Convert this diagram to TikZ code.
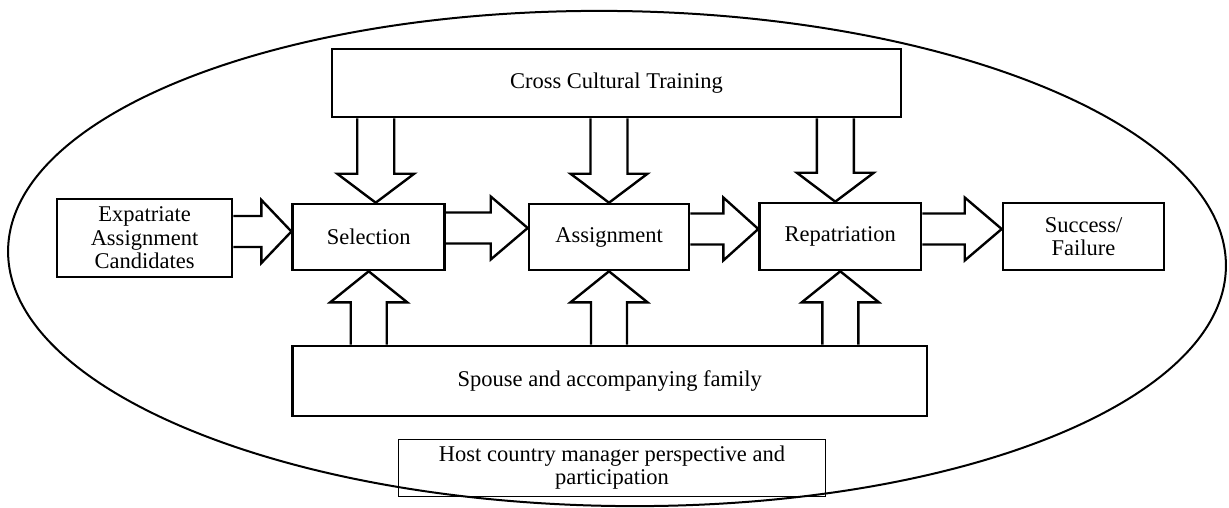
\documentclass[tikz,border=0pt]{standalone}
\usepackage{fontspec}
\setmainfont{Liberation Serif}
\usetikzlibrary{calc}
\tikzset{
  box/.style 2 args={draw, line width=2.6pt, minimum width=#1, minimum height=#2,
    align=center, inner sep=0pt, font=\fontsize{22.5}{23.5}\selectfont},
  thinbox/.style 2 args={draw, line width=1pt, minimum width=#1, minimum height=#2,
    align=center, inner sep=0pt, font=\fontsize{22.5}{22.5}\selectfont},
  barrow/.style={draw, line width=2.4pt, miter limit=10},
  outer/.style={draw, line width=2pt}
}
% horizontal block arrow: #1 source point (x used), #2 tip point, #3 head length
\newcommand\myHarrow[3]{%
  \draw[barrow] let \p1=(#1), \p2=(#2) in
    (\x1,\y2+15.5pt) -- (\x2-#3,\y2+15.5pt) -- (\x2-#3,\y2+31.5pt) -- (\x2,\y2)
    -- (\x2-#3,\y2-31.5pt) -- (\x2-#3,\y2-15.5pt) -- (\x1,\y2-15.5pt);}
% downward block arrow: #1 source point (y used), #2 tip point
\newcommand\myDarrow[2]{%
  \draw[barrow] let \p1=(#1), \p2=(#2) in
    (\x2-18.5pt,\y1) -- (\x2-18.5pt,\y2+29pt) -- (\x2-38.5pt,\y2+29pt) -- (\x2,\y2)
    -- (\x2+38.5pt,\y2+29pt) -- (\x2+18.5pt,\y2+29pt) -- (\x2+18.5pt,\y1);}
% upward block arrow: #1 source point (y used), #2 tip point
\newcommand\myUarrow[2]{%
  \draw[barrow] let \p1=(#1), \p2=(#2) in
    (\x2-18pt,\y1) -- (\x2-18pt,\y2-31pt) -- (\x2-38.5pt,\y2-31pt) -- (\x2,\y2)
    -- (\x2+38.5pt,\y2-31pt) -- (\x2+18pt,\y2-31pt) -- (\x2+18pt,\y1);}
\begin{document}
\begin{tikzpicture}[x=1pt,y=-1pt]
\useasboundingbox (0,0) rectangle (1229,507);
\fill[white] (0,0) rectangle (1229,507);

\draw[outer, rotate around={-0.8:(617,258.5)}] (617,258.5) ellipse [x radius=609pt, y radius=247.5pt];

\node[box={569pt}{68pt}] (cct) at (616.5,83) {Cross Cultural Training};
\node[box={175pt}{78pt}] (exp) at (144.5,238) {Expatriate\\Assignment\\Candidates};
\node[box={152pt}{66pt}] (sel) at (368.7,237) {Selection};
\node[box={160pt}{66pt}] (asg) at (609,237) {Assignment};
\node[box={161.4pt}{67pt}] (rep) at (840.3,236.5) {Repatriation};
\node[box={161pt}{67pt}] (suc) at (1083.5,236.5) {Success/\\Failure};
\node[box={634.4pt}{70pt}] (sp) at (609.8,381) {Spouse and accompanying family};
\node[thinbox={427pt}{57pt}] (host) at (612,467.5) {Host country manager perspective and\\participation};

\myHarrow{exp.east}{$(sel.west)+(0,-5.5)$}{30pt}
\myHarrow{sel.east}{$(asg.west)+(0,-9)$}{37pt}
\myHarrow{asg.east}{$(rep.west)+(0,-7.5)$}{35pt}
\myHarrow{rep.east}{$(suc.west)+(0,-7.5)$}{37pt}

\myDarrow{cct.south}{$(sel.north)+(7,0)$}
\myDarrow{cct.south}{asg.north}
\myDarrow{cct.south}{$(rep.north)+(-5,0)$}

\myUarrow{sp.north}{sel.south}
\myUarrow{sp.north}{asg.south}
\myUarrow{sp.north}{rep.south}
\end{tikzpicture}
\end{document}
